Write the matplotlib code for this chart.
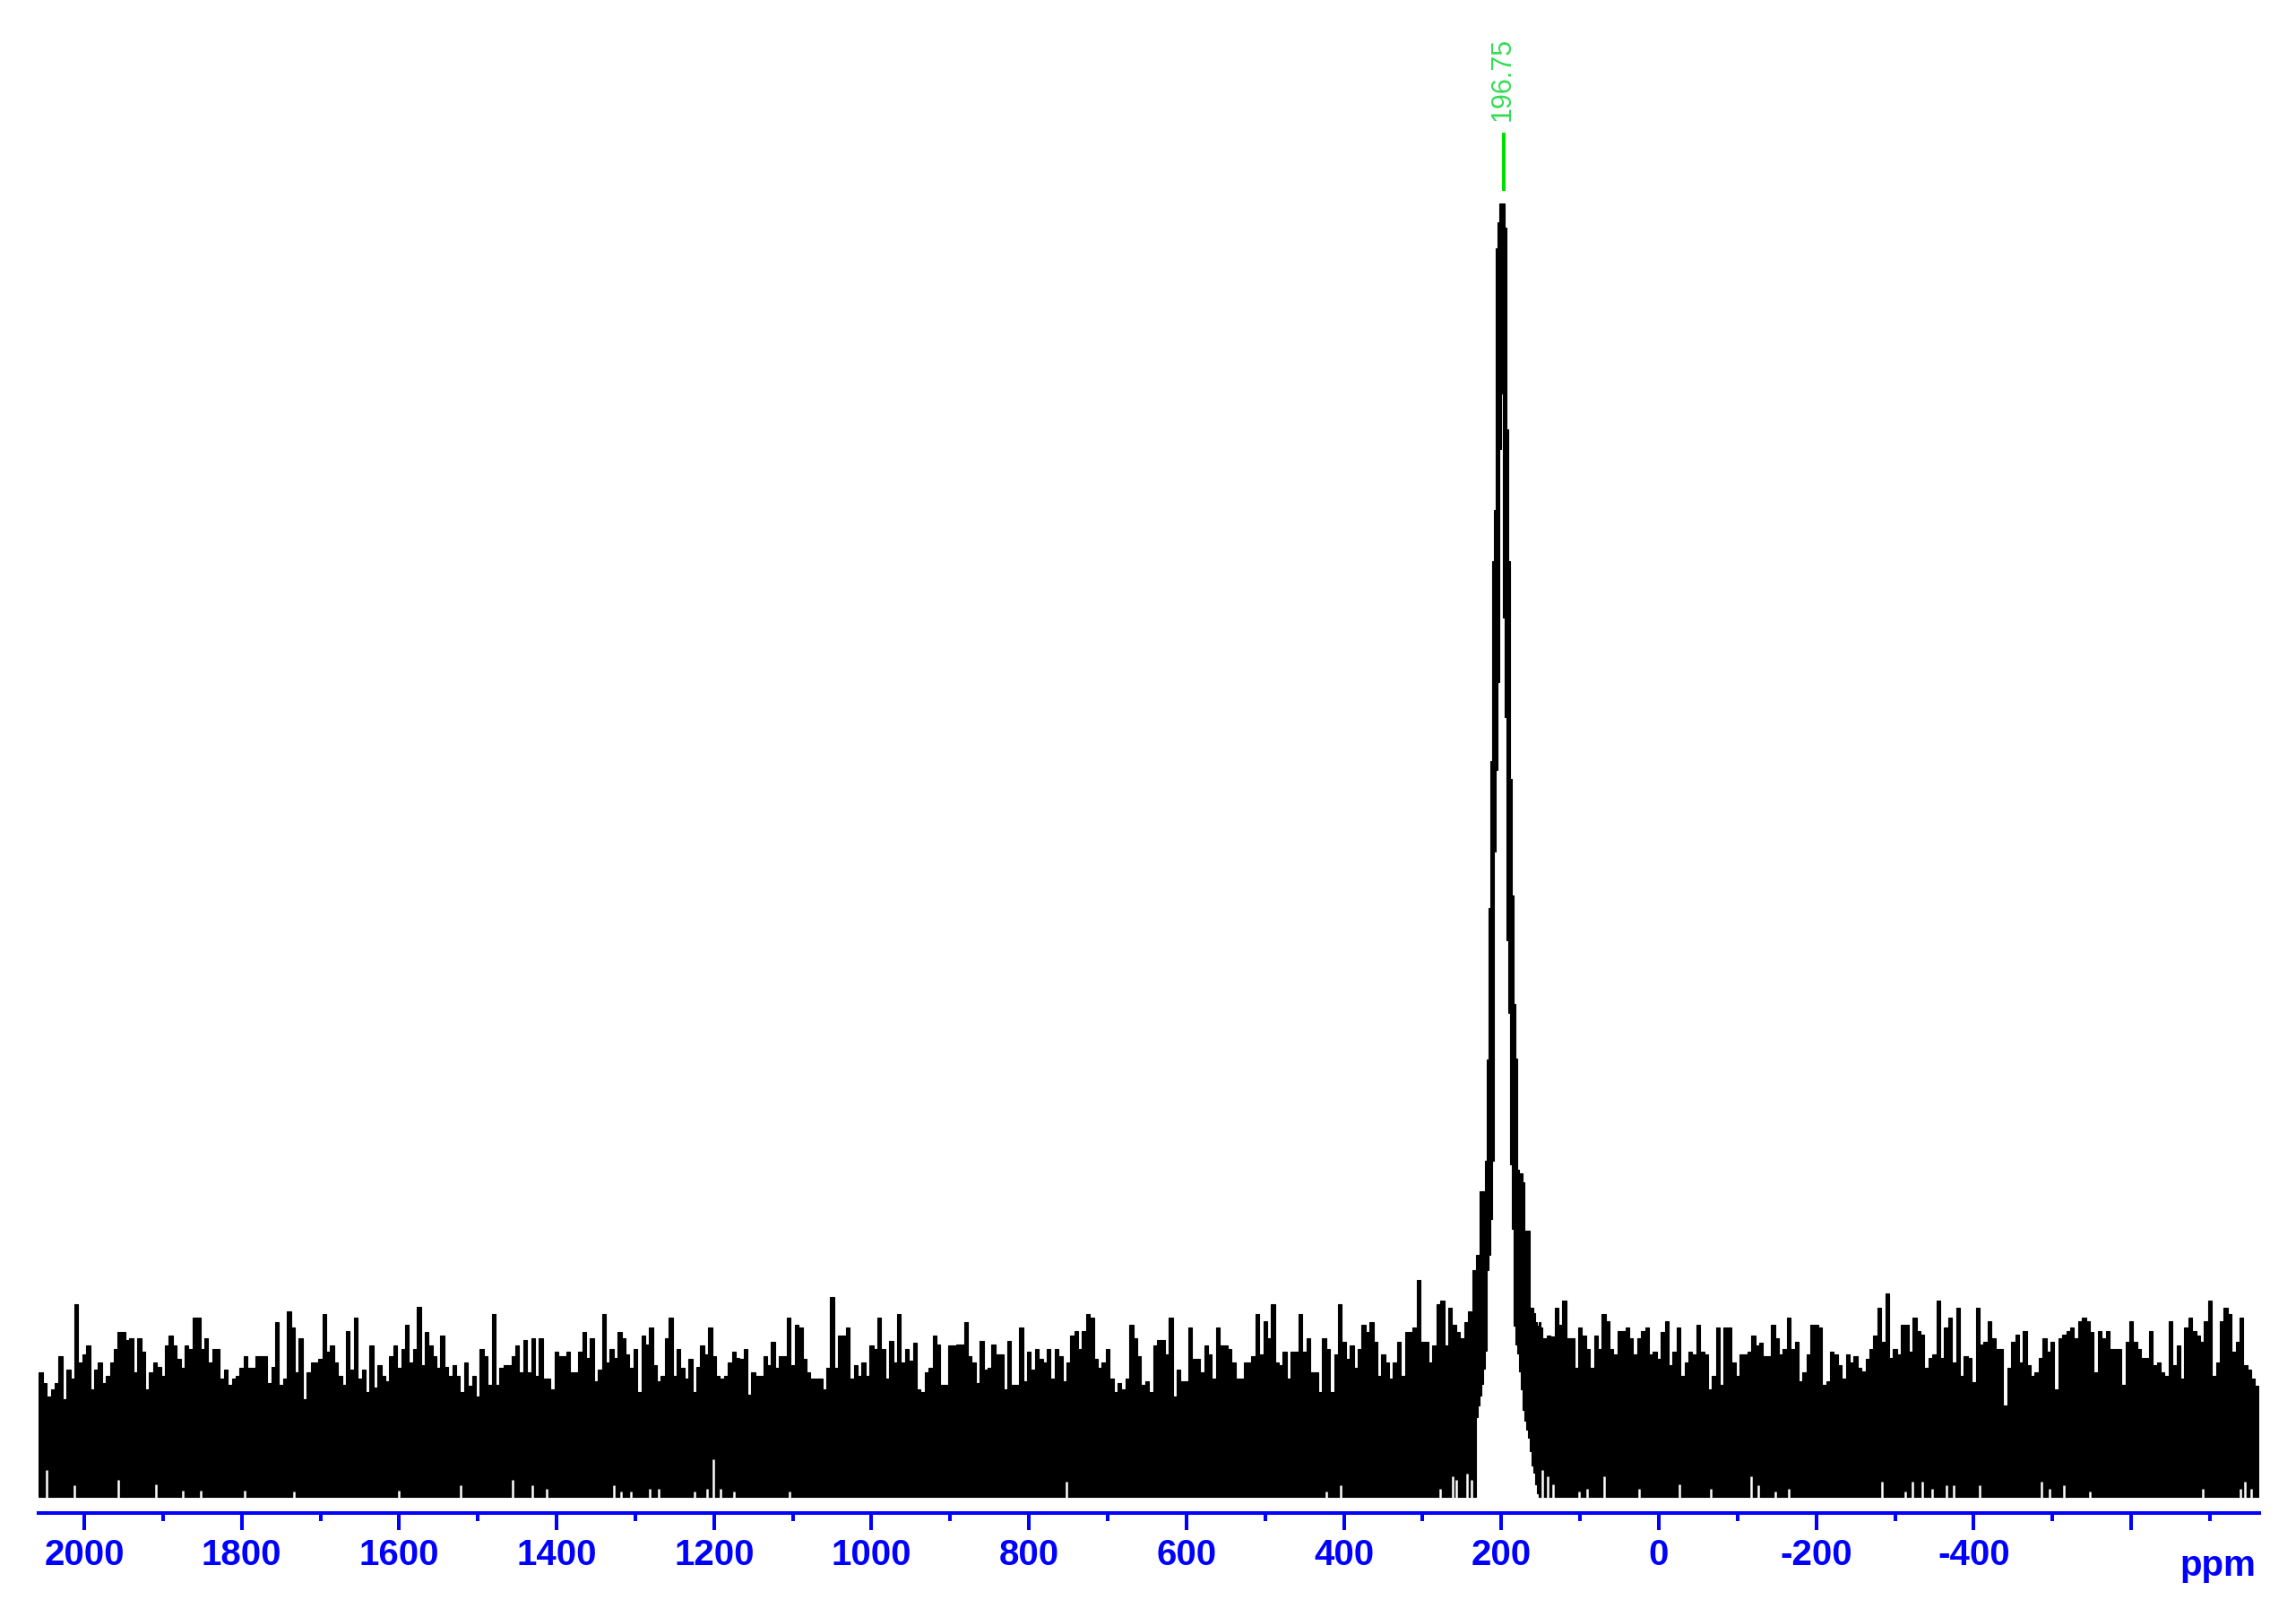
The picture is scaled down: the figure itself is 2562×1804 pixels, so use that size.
import numpy as np
import matplotlib.pyplot as plt
from matplotlib.ticker import FixedLocator

# noise columns, 5 ppm wide; value = height of the column top (arbitrary units)
left_ppm = np.arange(2055, 239, -5)
left_top = [
    416, 381, 336, 361, 381, 471, 326, 426, 396, 646,
    451, 476, 506, 361, 426, 451, 381, 406, 451, 496,
    551, 551, 526, 531, 416, 531, 486, 361, 416, 451,
    436, 406, 506, 541, 506, 461, 431, 506, 496, 601,
    601, 496, 531, 451, 496, 496, 396, 426, 376, 396,
    406, 431, 471, 431, 431, 471, 471, 471, 381, 436,
    586, 376, 396, 621, 566, 416, 531, 326, 416, 451,
    451, 461, 611, 486, 506, 451, 406, 376, 556, 426,
    601, 396, 426, 351, 506, 366, 441, 406, 386, 471,
    506, 431, 496, 576, 451, 496, 636, 441, 551, 506,
    471, 431, 541, 436, 406, 441, 406, 351, 451, 371,
    406, 336, 496, 471, 376, 611, 376, 431, 441, 441,
    471, 506, 416, 526, 416, 531, 406, 531, 396, 396,
    361, 486, 471, 471, 486, 416, 416,
    486,
    551, 466, 531, 386, 426, 611, 451, 496, 466, 551,
    531, 476, 431, 496, 351, 541, 511, 566, 441, 386,
    406, 531, 601, 406, 496, 431, 396, 461, 351, 436,
    506, 476, 566, 471, 406, 396, 406, 451, 486, 466,
    461, 496, 341, 416, 406, 406, 471, 441, 519, 431,
    471, 471, 601, 441, 576, 566, 461, 416, 396, 396,
    396, 361, 431, 668, 431, 541, 541, 566, 396, 441,
    406, 451, 406, 506, 496, 601, 496, 396, 521, 451,
    611, 451, 496, 456, 516, 361, 351, 416, 431, 541,
    511, 376, 376, 506, 506, 511, 511, 586, 471, 451,
    381, 521, 426, 431, 511, 476, 476, 361, 521, 376,
    376, 566, 386, 486, 426, 496, 461, 451, 496, 396,
    496, 471, 386, 451, 541, 556, 496, 556, 611, 601,
    461, 431, 451, 496, 396, 351, 381, 361, 396, 576,
    531, 471, 376, 386, 351, 506, 526, 526,
    476, 601, 336, 426, 386, 386, 566, 461, 461, 416,
    506, 476, 396, 566, 506, 506, 496, 451, 396, 396,
    451, 451, 471, 611, 476, 588, 531, 644, 451, 441,
    486, 396, 486, 486, 611, 486, 531, 416, 416, 351,
    531, 496, 351, 476, 644, 519, 461, 508, 431, 496,
    576, 551, 586, 519, 406, 476, 451, 396, 451, 519,
    406, 551, 551, 566, 726, 519, 519, 451, 508, 644,
    656, 508, 633, 576, 551, 531, 586, 621,
]
right_ppm = np.arange(150, -761, -5)
right_top = [
    566, 531, 541, 536, 633, 576, 656, 531, 531, 431,
    566, 541, 496, 431, 541, 496, 611, 588, 496, 476,
    554, 554, 566, 531, 476, 531, 554, 566, 476, 486,
    461, 551, 588, 441, 486, 566, 406, 451, 486, 476,
    576, 486, 476, 361, 406, 566, 376, 566, 566, 451,
    406, 476, 476,
    486, 541, 506, 516, 471, 471, 576, 531, 476, 496,
    601, 496, 519, 386, 416, 476, 576, 576, 566, 376,
    386, 486, 476, 441, 396, 476, 451, 471, 431, 421,
    461, 496, 541, 633, 519, 681, 464, 496, 476, 576,
    576, 486, 601, 554, 543, 431, 464, 476, 656, 464,
    566, 601, 451, 633, 406, 471, 464, 384, 633, 509,
    519, 588, 531, 496, 496, 306, 431, 519, 543, 451,
    554, 441, 406, 418, 464, 531, 486, 519, 361, 531,
    543, 554, 566, 531, 588, 601, 588, 551, 418, 554,
    531, 554, 496, 496, 496, 376, 519, 588, 519, 496,
    464, 464, 554, 441, 451, 418, 406, 588, 441, 508,
    396, 566, 601, 554, 541, 519, 588, 656, 406, 451,
    588, 633, 611, 486, 518, 601, 441, 426, 396, 371,
]

# peak region, narrow columns: lowest and highest point of the trace in each
peak_ppm = [237.9, 235.6, 233.4, 231.1, 228.8, 226.5, 224.2, 222.0, 219.7, 217.4,
            215.1, 212.9, 210.6, 208.3, 206.0, 203.8, 201.5, 199.2, 196.9, 194.7,
            192.4, 190.1, 187.8, 185.5, 183.3, 181.0, 178.7, 176.4, 174.2, 171.9,
            169.6, 167.3, 165.1, 162.8, 160.5, 158.2, 155.9, 153.7, 151.4]
peak_low = [0, 0, 0, 268, 307, 338, 377, 429, 489, 758,
            810, 931, 1126, 2161, 2433, 2728, 3507, 3693, 2944, 2611,
            1862, 1619, 1113, 896, 572, 511, 481, 420, 359, 290,
            255, 225, 199, 152, 104, 82, 43, 13, 0]
peak_high = [619, 758, 758, 810, 810, 1022, 1022, 1022, 1126, 1464,
             1970, 2464, 3131, 3304, 4178, 4265, 4330, 4330, 4330, 4248,
             3572, 3131, 2403, 2013, 1650, 1468, 1095, 1083, 1083, 1052,
             892, 892, 892, 632, 632, 615, 585, 572, 585]

# places where the trace did not come down to the floor
gap_ppm = [2048, 2013, 1957, 1909, 1875, 1852, 1796, 1734, 1600, 1522,
           1456, 1431, 1413, 1327, 1318, 1306, 1282, 1270, 1225, 1209,
           1201, 1192, 1175, 1104, 752, 422, 404, 278, 262, 257,
           244, 238, 148, 141, 134, 101, 91, 69, 25, -26,
           -66, -117, -126, -148, -165, -283, -313, -322, -335, -347,
           -365, -375, -408, -486, -496, -514, -548, -691, -739, -744, -752]
gap_h = [91, 39, 56, 43, 22, 22, 22, 17, 22, 39,
         56, 39, 26, 39, 17, 17, 26, 26, 17, 26,
         126, 26, 17, 17, 52, 17, 39, 26, 69, 56,
         78, 56, 91, 69, 43, 17, 26, 69, 26, 43,
         26, 69, 39, 17, 26, 52, 17, 52, 52, 26,
         39, 39, 39, 52, 26, 39, 17, 26, 26, 52, 26]

peak_pos = 196.75
major_ticks = [2000, 1800, 1600, 1400, 1200, 1000, 800, 600, 400, 200, 0, -200, -400, -600]
tick_labels = ['2000', '1800', '1600', '1400', '1200', '1000', '800', '600', '400', '200', '0', '-200', '-400', '']
minor_ticks = [1900, 1700, 1500, 1300, 1100, 900, 700, 500, 300, 100, -100, -300, -500, -700]

blue = '#0000ff'

fig = plt.figure(figsize=(25.62, 18.04), dpi=100)
ax = fig.add_axes([43 / 2562, 116 / 1804, 2478.3 / 2562, 1688 / 1804])

ax.bar(left_ppm, left_top, width=5, color='black', edgecolor='black', linewidth=0.8)
ax.bar(right_ppm, right_top, width=5, color='black', edgecolor='black', linewidth=0.8)
ax.bar(peak_ppm, np.array(peak_high) - np.array(peak_low), bottom=peak_low, width=2.3,
       color='black', edgecolor='black', linewidth=0.8)
ax.vlines(gap_ppm, -3, gap_h, color='white', linewidth=1.8)

# peak pick marker
ax.vlines(peak_pos, 4371, 4566, color='#00e000', linewidth=2.9)
ax.text(peak_pos + 1.5, 4746, '196.75', rotation=90, ha='center', va='center',
        color='#33dd55', fontsize=22, family='Liberation Sans')

ax.set_xlim(2058, -763)
ax.set_ylim(-54, 5010)

for s in ['top', 'left', 'right']:
    ax.spines[s].set_visible(False)
ax.spines['bottom'].set_color(blue)
ax.spines['bottom'].set_linewidth(2.9)
ax.yaxis.set_visible(False)

ax.xaxis.set_major_locator(FixedLocator(major_ticks))
ax.xaxis.set_minor_locator(FixedLocator(minor_ticks))
ax.set_xticklabels(tick_labels, family='Liberation Sans', fontweight='bold')
ax.tick_params(axis='x', which='major', direction='out', length=14, width=2.9,
               color=blue, labelcolor=blue, labelsize=29, pad=6)
ax.tick_params(axis='x', which='minor', direction='out', length=6.5, width=2.9, color=blue)

fig.text(2475 / 2562, 1 - 1758 / 1804, 'ppm', ha='center', va='baseline', color=blue,
         fontsize=29, family='Liberation Sans', fontweight='bold')

plt.savefig('out.png', dpi=100)
